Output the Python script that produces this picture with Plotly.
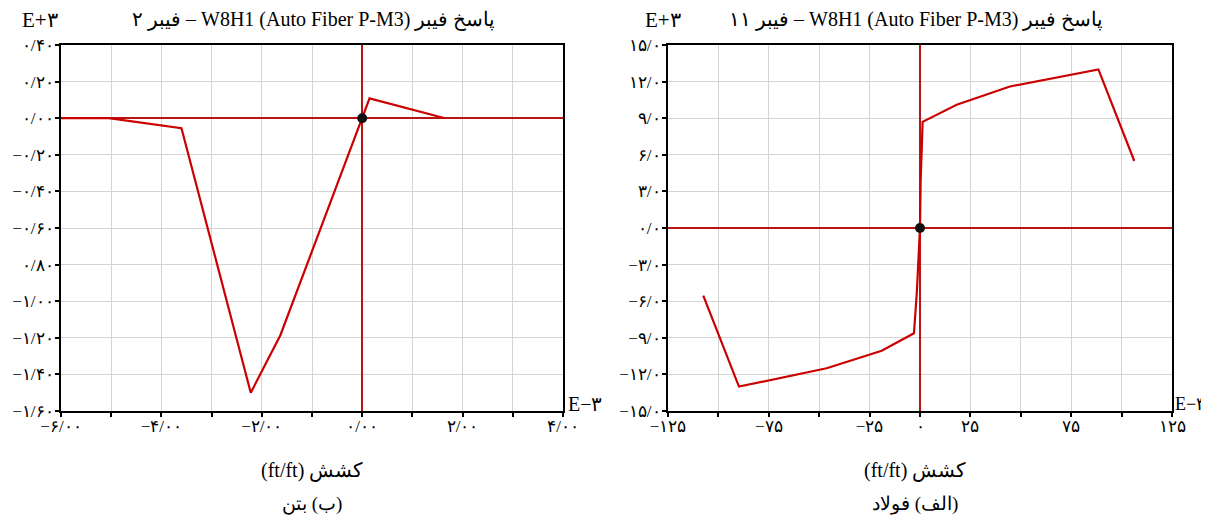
import plotly.graph_objects as go

# ---------------- data ----------------
# (ب) بتن  - fiber 2 (concrete)
concrete_strain = [-6.0, -5.05, -3.6, -2.22, -1.63, 0.0, 0.146, 1.65]
concrete_stress = [0.0, 0.0, -0.055, -1.50, -1.186, 0.0, 0.108, 0.0]

# (الف) فولاد - fiber 11 (steel)
steel_strain = [-107.5, -89.8, -46.3, -19.0, -3.0, -1.6, 0.0, 0.3, 1.3, 18.2, 44.6, 88.5, 106.3]
steel_stress = [-5.55, -13.0, -11.5, -10.06, -8.63, -5.35, 0.0, 3.7, 8.7, 10.1, 11.6, 13.0, 5.49]

# ticks
c_xvals = [-6, -5, -4, -3, -2, -1, 0, 1, 2, 3, 4]
c_xtext = ["−۶/۰۰", "", "−۴/۰۰", "", "−۲/۰۰", "", "۰/۰۰", "", "۲/۰۰", "", "۴/۰۰"]
c_yvals = [0.4, 0.2, 0.0, -0.2, -0.4, -0.6, -0.8, -1.0, -1.2, -1.4, -1.6]
c_ytext = ["۰/۴۰", "۰/۲۰", "۰/۰۰", "−۰/۲۰", "−۰/۴۰", "−۰/۶۰", "۰/۸۰",
           "−۱/۰۰", "−۱/۲۰", "−۱/۴۰", "−۱/۶۰"]

s_xvals = [-125, -100, -75, -50, -25, 0, 25, 50, 75, 100, 125]
s_xtext = ["−۱۲۵", "", "−۷۵", "", "−۲۵", "۰", "۲۵", "", "۷۵", "", "۱۲۵"]
s_yvals = [15, 12, 9, 6, 3, 0, -3, -6, -9, -12, -15]
s_ytext = ["۱۵/۰", "۱۲/۰", "۹/۰", "۶/۰", "۳/۰", "۰/۰", "−۳/۰", "−۶/۰", "−۹/۰", "−۱۲/۰", "−۱۵/۰"]

title_left = "فیبر ۲ – W8H1 (Auto Fiber P-M3) پاسخ فیبر"
title_right = "فیبر ۱۱ – W8H1 (Auto Fiber P-M3) پاسخ فیبر"
xlabel = "(ft/ft) کشش"
cap_left = "\u200f(ب) بتن"
cap_right = "\u200f(الف) فولاد"

# ---------------- figure ----------------
# page body has an 8px margin
OFF = 8
W, H = 1209 - OFF, 524 - 2 * OFF
LINE = "#cc0000"
AXRED = "#b81414"
FONT = "Liberation Serif, Times New Roman, DejaVu Serif, serif"

fig = go.Figure()
fig.add_trace(go.Scatter(x=concrete_strain, y=concrete_stress, mode="lines",
                         line=dict(color=LINE, width=2.2), xaxis="x", yaxis="y"))
fig.add_trace(go.Scatter(x=[0], y=[0], mode="markers",
                         marker=dict(color="#111111", size=10), xaxis="x", yaxis="y"))
fig.add_trace(go.Scatter(x=steel_strain, y=steel_stress, mode="lines",
                         line=dict(color=LINE, width=2.2), xaxis="x2", yaxis="y2"))
fig.add_trace(go.Scatter(x=[0], y=[0], mode="markers",
                         marker=dict(color="#111111", size=10), xaxis="x2", yaxis="y2"))

def px(x):
    return (x - OFF) / W

def py(y):
    return 1 - (y - OFF) / H

ydom = [py(411), py(45)]

common = dict(showline=True, linecolor="black", linewidth=2, mirror=True,
              ticks="outside", ticklen=4, tickwidth=1.5, tickcolor="black",
              showgrid=True, gridcolor="#d4d4d4", gridwidth=1,
              zeroline=True, zerolinecolor=AXRED, zerolinewidth=1.5,
              tickfont=dict(family=FONT, size=17, color="black"),
              tickmode="array", fixedrange=True, automargin=False)

fig.update_layout(
    width=W, height=H, margin=dict(l=0, r=0, t=0, b=0, autoexpand=False),
    plot_bgcolor="white", paper_bgcolor="white", showlegend=False,
    xaxis=dict(domain=[px(61), px(563)], range=[-6, 4], tickvals=c_xvals, ticktext=c_xtext,
               anchor="y", ticklabelstandoff=-5, **common),
    yaxis=dict(domain=ydom, range=[-1.6, 0.4], tickvals=c_yvals, ticktext=c_ytext,
               anchor="x", ticklabelstandoff=-2, **common),
    xaxis2=dict(domain=[px(668), px(1172)], range=[-125, 125], tickvals=s_xvals, ticktext=s_xtext,
                anchor="y2", ticklabelstandoff=-5, **common),
    yaxis2=dict(domain=ydom, range=[-15, 15], tickvals=s_yvals, ticktext=s_ytext,
                anchor="x2", ticklabelstandoff=-2, **common),
)

def ann(text, x, y, size=16, xanchor="center"):
    fig.add_annotation(text=text, x=px(x), y=py(y), xref="paper", yref="paper",
                       showarrow=False, xanchor=xanchor, yanchor="middle",
                       font=dict(family=FONT, size=size, color="black"))

ann(title_left, 313, 20, 20)
ann(title_right, 916, 20, 20)
ann("E+۳", 40, 20, 21)
ann("E+۳", 663, 20, 21)
ann("E−۳", 566, 404, 20, "left")
ann("E−۳", 1173, 404, 18, "left")
ann(xlabel, 312, 470, 20)
ann(xlabel, 915, 470, 20)
ann(cap_left, 312, 504, 19)
ann(cap_right, 915, 504, 19)

fig.write_html("out.html")
